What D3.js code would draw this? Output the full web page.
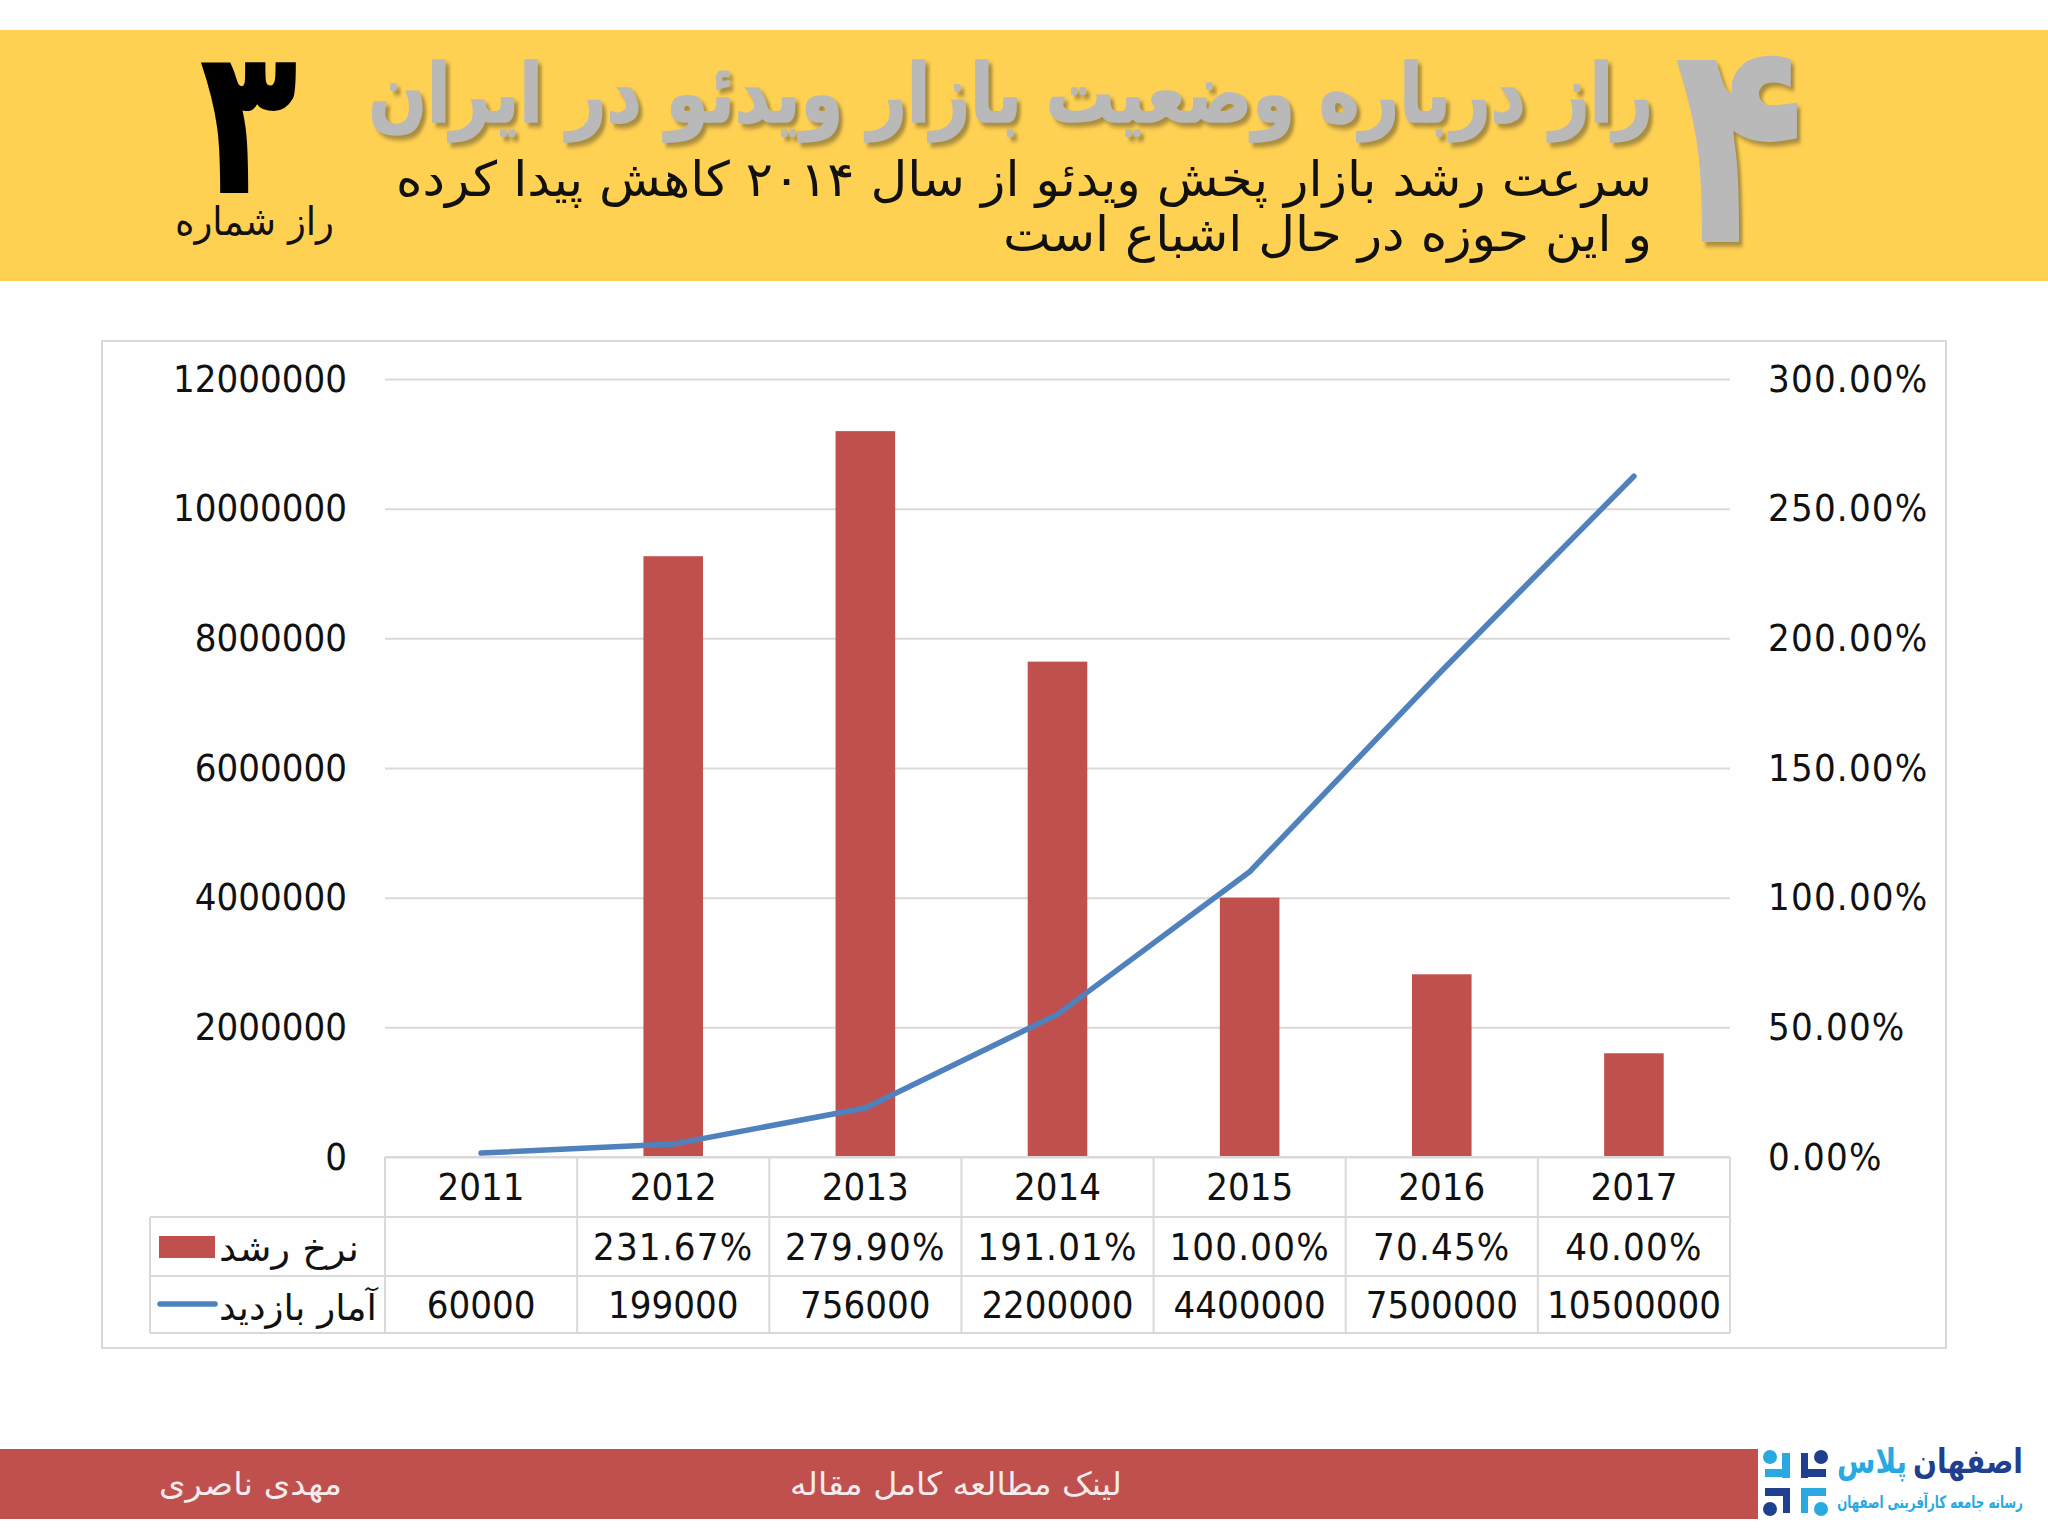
<!DOCTYPE html>
<html lang="fa">
<head>
    <meta charset="UTF-8">
    <title>Video market</title>
    <script src="https://d3js.org/d3.v7.min.js"></script>
    <style>
        body { margin: 0; background: white; }
        svg { display: block; }
        .num { font-family: "DejaVu Sans Condensed", "DejaVu Sans", sans-serif; font-stretch: condensed; font-size: 38px; fill: #111; }
        .pct { letter-spacing: 1.2px; }
        .fa { font-family: "DejaVu Sans", sans-serif; direction: rtl; text-anchor: middle; }
        .grid line { stroke: #d9d9d9; stroke-width: 2; }
        .grid .domain { display: none; }
        .ticks .domain, .ticks line { display: none; }
    </style>
</head>
<body>
    <div id="chart"></div>
    <script>
        // values
        const years = ["2011", "2012", "2013", "2014", "2015", "2016", "2017"];
        const growth = [null, 231.67, 279.90, 191.01, 100.00, 70.45, 40.00];
        const visits = [60000, 199000, 756000, 2200000, 4400000, 7500000, 10500000];
        const visitTicks = [0, 2000000, 4000000, 6000000, 8000000, 10000000, 12000000];
        const growthTicks = [0, 50, 100, 150, 200, 250, 300];
        const growthName = "نرخ رشد";
        const visitsName = "آمار بازدید";

        const titleText = "راز درباره وضعیت بازار ویدئو در ایران";
        const subLine1 = "سرعت رشد بازار پخش ویدئو از سال ۲۰۱۴ کاهش پیدا کرده";
        const subLine2 = "و این حوزه در حال اشباع است";
        const secretLabel = "راز شماره";
        const footerLink = "لینک مطالعه کامل مقاله";
        const footerAuthor = "مهدی ناصری";

        const RED = "#c0504d", BLUE = "#4f81bd", YELLOW = "#ffd152", LINE = "#d9d9d9";
        const DARK = "#1f3f8f", LIGHT = "#29a9e0";

        const plot = { left: 385, right: 1730, top: 379, bottom: 1157 };
        const rowEdges = [1157, 1217, 1276, 1333];

        const svg = d3.select("#chart").append("svg").attr("width", 2048).attr("height", 1536);

        // puts text centred between x0 and x1, squeezed to that width
        function fitText(str, x0, x1, y, size, opts = {}) {
            const t = svg.append("text").attr("class", "fa").text(str)
                .attr("font-size", size)
                .attr("font-weight", opts.weight || "normal")
                .attr("fill", opts.fill || "#111");
            if (opts.filter) t.style("filter", opts.filter);
            if (opts.stroke) t.attr("stroke", opts.fill).attr("stroke-width", opts.stroke);
            const s = (x1 - x0) / t.node().getComputedTextLength();
            t.attr("transform", `translate(${(x0 + x1) / 2},${y}) scale(${s},${opts.sy || 1})`);
            return t;
        }

        // banner
        svg.append("rect").attr("x", 0).attr("y", 30).attr("width", 2048).attr("height", 251).attr("fill", YELLOW);
        const shadow = "drop-shadow(4px 4px 2px rgba(110,95,50,0.6))";
        fitText(titleText, 368, 1653, 122, 74, { weight: "bold", fill: "#b9b9b9", filter: shadow, sy: 1.1, stroke: 1.5 });
        fitText("۴", 1674, 1805, 242, 256, { weight: "bold", fill: "#b9b9b9", filter: shadow, sy: 1.12 });
        fitText(subLine1, 396, 1652, 196, 44, { sy: 1.1 });
        fitText(subLine2, 1003, 1652, 251, 44, { sy: 1.1 });
        fitText("۳", 199, 298, 193, 182, { weight: "bold", fill: "#000", sy: 1.13 });
        fitText(secretLabel, 175, 334, 235, 38, { sy: 1.05 });

        // chart frame
        svg.append("rect").attr("x", 102).attr("y", 341).attr("width", 1844).attr("height", 1007)
            .attr("fill", "#fefefe").attr("stroke", LINE).attr("stroke-width", 2);

        const x = d3.scaleBand().domain(years).range([plot.left, plot.right]).paddingInner(0.69).paddingOuter(0.345);
        const xCol = d3.scaleBand().domain(years).range([plot.left, plot.right]);
        const yVisits = d3.scaleLinear().domain([0, 12000000]).range([plot.bottom, plot.top]);
        const yGrowth = d3.scaleLinear().domain([0, 300]).range([plot.bottom, plot.top]);

        svg.append("g").attr("class", "grid")
            .attr("transform", `translate(${plot.left},0)`)
            .call(d3.axisLeft(yVisits).tickValues(visitTicks).tickSize(-(plot.right - plot.left)).tickFormat(""));

        const leftAxis = svg.append("g").attr("class", "ticks")
            .attr("transform", `translate(${plot.left},0)`)
            .call(d3.axisLeft(yVisits).tickValues(visitTicks).tickSize(0).tickPadding(38).tickFormat(d3.format("d")));
        const rightAxis = svg.append("g").attr("class", "ticks")
            .attr("transform", `translate(${plot.right},0)`)
            .call(d3.axisRight(yGrowth).tickValues(growthTicks).tickSize(0).tickPadding(38).tickFormat(d => d3.format(".2f")(d) + "%"));
        leftAxis.selectAll("text").attr("class", "num");
        rightAxis.selectAll("text").attr("class", "num pct");
        leftAxis.attr("font-size", null).attr("font-family", null);
        rightAxis.attr("font-size", null).attr("font-family", null);

        // bars, then the line over them
        svg.append("g").selectAll("rect")
            .data(years.map((y, i) => ({ y, v: growth[i] })).filter(d => d.v !== null))
            .join("rect")
            .attr("x", d => x(d.y))
            .attr("width", x.bandwidth())
            .attr("y", d => yGrowth(d.v))
            .attr("height", d => plot.bottom - yGrowth(d.v))
            .attr("fill", RED);

        const line = d3.line()
            .x((d, i) => xCol(years[i]) + xCol.bandwidth() / 2)
            .y(d => yVisits(d));
        svg.append("path").datum(visits).attr("d", line)
            .attr("fill", "none").attr("stroke", BLUE).attr("stroke-width", 5.5)
            .attr("stroke-linecap", "round").attr("stroke-linejoin", "round");

        // data table
        const table = svg.append("g").attr("stroke", LINE).attr("stroke-width", 2);
        rowEdges.forEach((ry, i) => {
            table.append("line").attr("x1", i === 0 ? plot.left : 150).attr("x2", plot.right).attr("y1", ry).attr("y2", ry);
        });
        table.append("line").attr("x1", 150).attr("x2", 150).attr("y1", rowEdges[1]).attr("y2", rowEdges[3]);
        years.concat("end").forEach((yr, i) => {
            const cx = i < years.length ? xCol(yr) : plot.right;
            table.append("line").attr("x1", cx).attr("x2", cx).attr("y1", rowEdges[0]).attr("y2", rowEdges[3]);
        });

        const rows = [years, growth.map(v => v === null ? "" : d3.format(".2f")(v) + "%"), visits.map(String)];
        rows.forEach((row, r) => {
            svg.append("g").selectAll("text").data(row).join("text")
                .attr("class", r === 1 ? "num pct" : "num")
                .attr("text-anchor", "middle")
                .attr("x", (d, i) => xCol(years[i]) + xCol.bandwidth() / 2)
                .attr("y", (rowEdges[r] + rowEdges[r + 1]) / 2 + 13)
                .text(d => d);
        });

        // legend keys in the table
        svg.append("rect").attr("x", 159).attr("y", 1236).attr("width", 56).attr("height", 22).attr("fill", RED);
        svg.append("line").attr("x1", 160).attr("x2", 215).attr("y1", 1304).attr("y2", 1304)
            .attr("stroke", BLUE).attr("stroke-width", 5.5).attr("stroke-linecap", "round");
        fitText(growthName, 219, 359, 1261, 36);
        fitText(visitsName, 219, 377, 1320, 36);

        // footer
        svg.append("rect").attr("x", 0).attr("y", 1449).attr("width", 1758).attr("height", 70).attr("fill", RED);
        fitText(footerLink, 790, 1122, 1495, 32, { fill: "#f4ecec" });
        fitText(footerAuthor, 159, 342, 1495, 32, { fill: "#f4ecec" });

        // logo
        const logo = svg.append("g");
        const logoPieces = [
            { c: LIGHT, rects: [[1782, 1453, 8, 25], [1765, 1469, 25, 8]], dot: [1770, 1457] },
            { c: DARK, rects: [[1801, 1453, 7, 25], [1801, 1469, 25, 8]], dot: [1821, 1457] },
            { c: DARK, rects: [[1765, 1488, 25, 8], [1783, 1488, 7, 25]], dot: [1770, 1509] },
            { c: LIGHT, rects: [[1801, 1488, 25, 8], [1801, 1488, 7, 25]], dot: [1821, 1509] }
        ];
        logoPieces.forEach(p => {
            p.rects.forEach(r => logo.append("rect").attr("x", r[0]).attr("y", r[1]).attr("width", r[2]).attr("height", r[3]).attr("fill", p.c));
            logo.append("circle").attr("cx", p.dot[0]).attr("cy", p.dot[1]).attr("r", 7).attr("fill", p.c);
        });
        fitText("اصفهان", 1913, 2023, 1473, 34, { weight: "bold", fill: DARK });
        fitText("پلاس", 1837, 1907, 1473, 34, { weight: "bold", fill: LIGHT });
        fitText("رسانه جامعه کارآفرینی اصفهان", 1837, 2023, 1508, 17, { weight: "bold", fill: LIGHT });
    </script>
</body>
</html>
